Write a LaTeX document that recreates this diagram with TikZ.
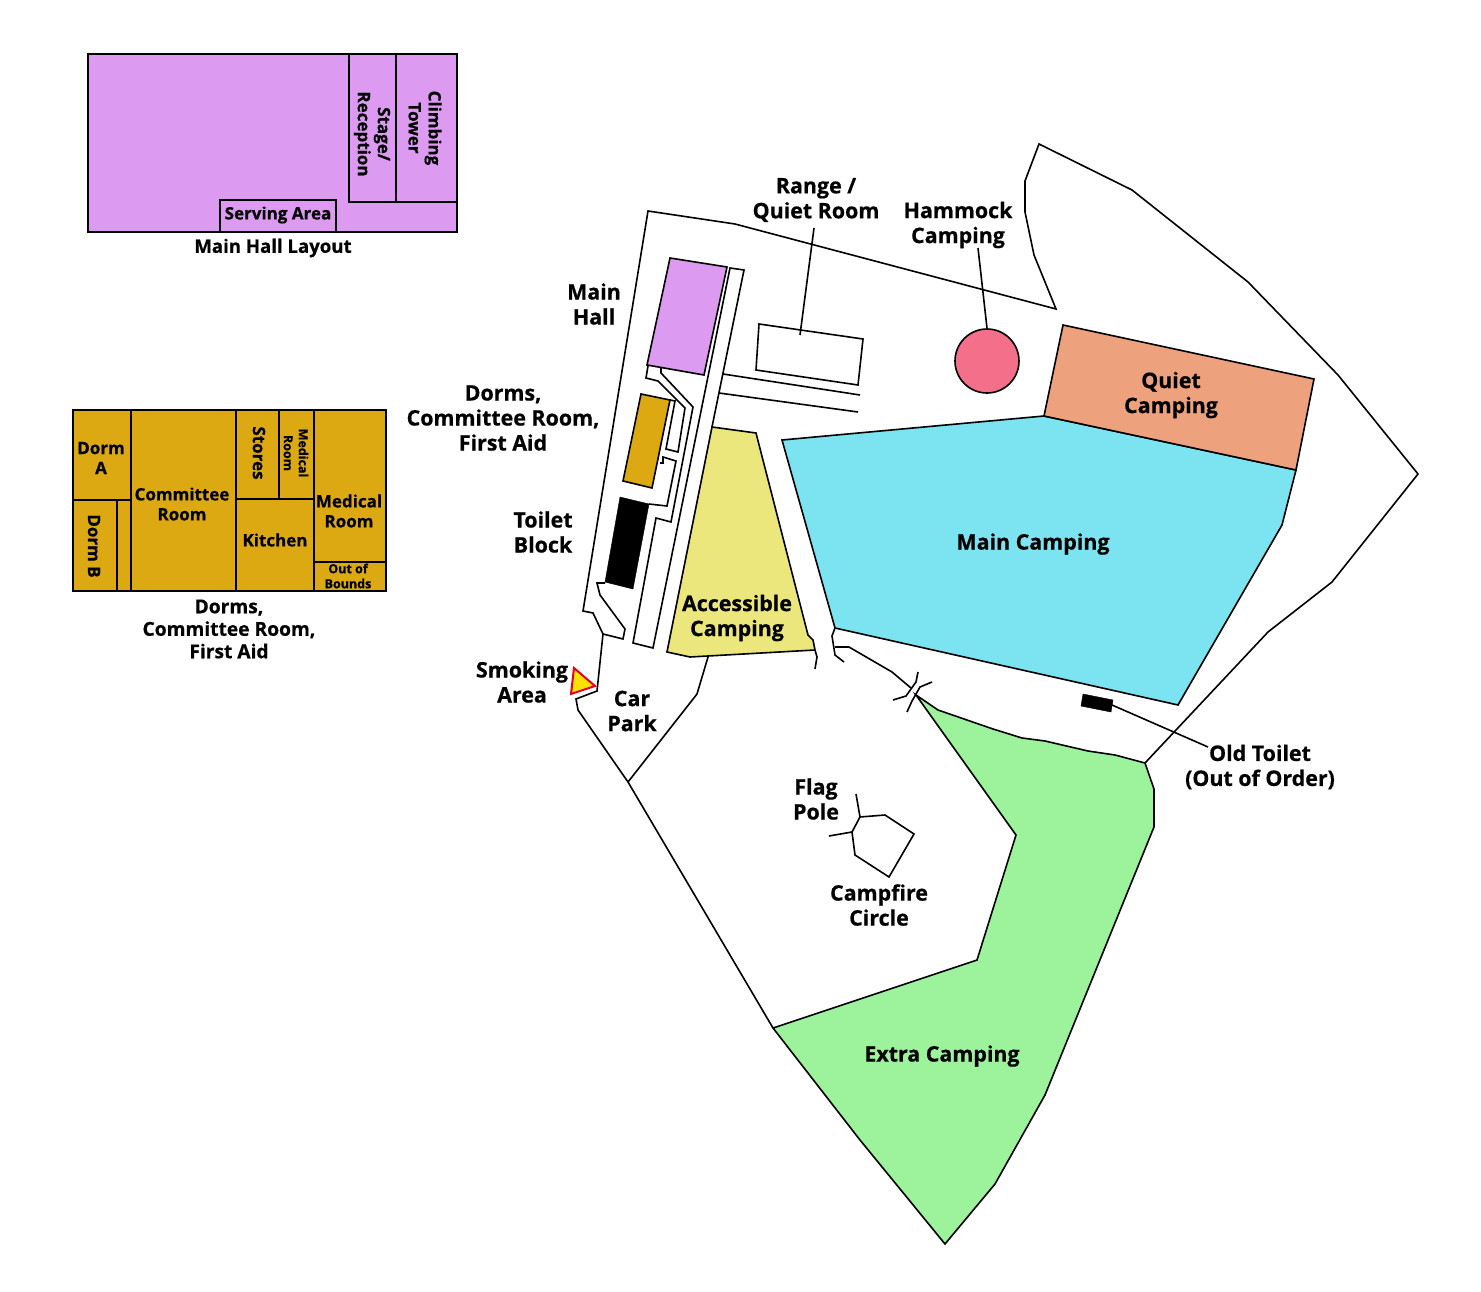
\documentclass[tikz,border=0pt]{standalone}
\usepackage{fontspec}
\setmainfont{Open Sans}[BoldFeatures={FakeBold=0.6}]
\definecolor{hallcol}{HTML}{DC9AF0}
\definecolor{dormcol}{HTML}{DCA913}
\definecolor{maincol}{HTML}{7CE3F1}
\definecolor{accesscol}{HTML}{ECE77C}
\definecolor{quietcol}{HTML}{EDA17D}
\definecolor{extracol}{HTML}{9DF39B}
\definecolor{hammockcol}{HTML}{F4708A}
\begin{document}
\begin{tikzpicture}[x=1pt,y=-1pt,line join=miter,
    wall/.style={draw=black,line width=1.6pt},
    room/.style={draw=black,line width=2pt},
    lbl/.style={inner sep=0pt,align=center,font=\fontsize{21.4}{25}\selectfont\bfseries},
    mid/.style={inner sep=0pt,align=center,font=\fontsize{17}{20}\selectfont\bfseries},
    caption/.style={inner sep=0pt,align=center,font=\fontsize{19.2}{22.5}\selectfont\bfseries},
    tiny/.style={inner sep=0pt,align=center,font=\fontsize{12.5}{15}\selectfont\bfseries}]
    \useasboundingbox (0,0) rectangle (1481,1292);

    % main hall layout
    \filldraw[room,fill=hallcol] (88,54) rectangle (457,232);
    \draw[room] (349,54) -- (349,202) -- (457,202) (396,54) -- (396,202);
    \draw[room] (220,232) -- (220,200) -- (336,200) -- (336,232);
    \node[mid] (servingarea) at (278,215) {Serving Area};
    \node[mid,rotate=-90] (stage) at (372,134) {Stage/\\Reception};
    \node[mid,rotate=-90] (climbing) at (425,128) {Climbing\\Tower};
    \node[caption,font=\fontsize{18.6}{22.5}\selectfont\bfseries] (hallcaption) at (273,248) {Main Hall Layout};

    % dorms layout
    \filldraw[room,fill=dormcol] (73,410) rectangle (386,591);
    \draw[room] (131,410) -- (131,591) (73,500) -- (131,500) (117,500) -- (117,591);
    \draw[room] (236,410) -- (236,591) (236,499) -- (314,499) (279,410) -- (279,499);
    \draw[room] (314,410) -- (314,591) (314,562) -- (386,562);
    \node[mid] (dorma) at (101,458) {Dorm\\A};
    \node[mid,rotate=-90] (dormb) at (94,546) {Dorm B};
    \node[mid] (committee) at (182,504) {Committee\\Room};
    \node[mid,rotate=-90] (stores) at (259,453) {Stores};
    \node[tiny,rotate=-90] (medsmall) at (296,453) {Medical\\Room};
    \node[mid] (kitchen) at (275,540) {Kitchen};
    \node[mid] (medical) at (349,511) {Medical\\Room};
    \node[tiny] (bounds) at (348,576) {Out of\\Bounds};
    \node[caption] (dormcaption) at (229,629) {Dorms,\\Committee Room,\\First Aid};

    % camping areas
    \filldraw[wall,fill=extracol] (916,695) -- (938,710) -- (993,729) -- (1022,738) -- (1045,741) -- (1088,751)
      -- (1115,755) -- (1145,763) -- (1154,789) -- (1154,827) -- (1045,1095) -- (995,1184) -- (945,1244)
      -- (860,1140) -- (773,1028) -- (977,960) -- (1016,835) -- cycle;
    \filldraw[wall,fill=maincol] (782,440) -- (1044,416) -- (1296,470) -- (1282,525) -- (1178,705) -- (835,628) -- cycle;
    \filldraw[wall,fill=quietcol] (1063,325) -- (1314,379) -- (1296,470) -- (1044,416) -- cycle;
    \filldraw[wall,fill=accesscol] (712,427) -- (756,433) -- (808,635) -- (813,640) -- (815,650) -- (690,657) -- (667,652) -- cycle;

    % site boundary
    \draw[wall] (603,634) -- (593,613) -- (583,611) -- (648,211) -- (735,224) -- (1056,309) -- (1034,255)
      -- (1025,212) -- (1025,181) -- (1039,144) -- (1132,190) -- (1248,282) -- (1338,375) -- (1418,474)
      -- (1332,582) -- (1268,632) -- (1145,763);
    \draw[wall] (603,634) -- (597,691) -- (576,699) -- (578,710) -- (628,782) -- (773,1028);
    \draw[wall] (708,657) -- (697,694) -- (628,782);
    \draw[wall] (815,650) -- (817,657) -- (815,669);
    \draw[wall] (835,628) -- (832,636) -- (835,655) -- (844,662);
    \draw[wall] (835,647) -- (849,647) -- (892,672) -- (911,688);
    \draw[wall] (893,700) -- (906,696) -- (916,682) -- (918,672);
    \draw[wall] (907,712) -- (912,701) -- (920,687) -- (932,682);

    % buildings
    \filldraw[wall,fill=hallcol] (670,258) -- (727,267) -- (704,375) -- (647,365) -- cycle;
    \filldraw[wall,fill=dormcol] (641,394) -- (670,400) -- (652,488) -- (623,481) -- cycle;
    \filldraw[draw=black,fill=black] (620,497) -- (649,504) -- (633,589) -- (605,582) -- cycle;
    \draw[wall] (648,366) -- (646,378) -- (658,381) -- (685,408) -- (678,452) -- (666,449) -- (675,401) -- (670,400);
    \draw[wall] (661,368) -- (661,373) -- (693,407) -- (671,522) -- (656,518) -- (633,643) -- (653,648)
      -- (730,268) -- (744,270) -- (712,427);
    \draw[wall] (660,463) -- (663,463) -- (663,457) -- (676,461) -- (667,506) -- (649,504);
    \draw[wall] (605,583) -- (597,583) -- (600,595) -- (625,629) -- (623,639) -- (603,634);
    \filldraw[wall,fill=white] (759,324) -- (863,339) -- (858,385) -- (756,370) -- cycle;
    \draw[wall] (723,374) -- (860,395) (719,393) -- (858,412);
    \filldraw[draw=black,fill=black] (1083,694) -- (1113,700) -- (1111,712) -- (1081,706) -- cycle;

    % campfire circle
    \draw[wall] (860,817) -- (885,815) -- (914,834) -- (889,877) -- (855,855) -- (852,832) -- cycle;
    \draw[wall] (856,794) -- (860,817) (829,836) -- (852,832);

    \node[circle,draw=black,line width=1.6pt,fill=hammockcol,minimum size=64pt,inner sep=0pt] (hammock) at (987,361) {};
    \filldraw[draw=red!90!blue,line width=2pt,fill=yellow!85!orange] (574,668) -- (595,686) -- (571,694) -- cycle;

    % labels
    \node[lbl] (rangelbl) at (816,200) {Range /\\Quiet Room};
    \node[lbl] (hammocklbl) at (958,225) {Hammock\\Camping};
    \node[lbl] (halllbl) at (594,304) {Main\\Hall};
    \node[lbl] (dormlbl) at (503,418) {Dorms,\\Committee Room,\\First Aid};
    \node[lbl] (toiletlbl) at (543,532) {Toilet\\Block};
    \node[lbl] (smokinglbl) at (522,682) {Smoking\\Area};
    \node[lbl] (carlbl) at (632,711) {Car\\Park};
    \node[lbl] (accesslbl) at (737,618) {Accessible\\Camping};
    \node[lbl] (quietlbl) at (1171,395) {Quiet\\Camping};
    \node[lbl] (mainlbl) at (1033,544) {Main Camping};
    \node[lbl] (oldlbl) at (1260,767) {Old Toilet\\(Out of Order)};
    \node[lbl] (flaglbl) at (816,799) {Flag\\Pole};
    \node[lbl] (firelbl) at (879,905) {Campfire\\Circle};
    \node[lbl] (extralbl) at (942,1056) {Extra Camping};

    % leader lines
    \coordinate (rangefrom) at (814,228);
    \coordinate (rangeto) at (800,335);
    \coordinate (hammockfrom) at (978,248);
    \coordinate (oldfrom) at (1208,747);
    \coordinate (oldto) at (1112,705);
    \draw[wall] (rangefrom) -- (rangeto);
    \draw[wall] (hammockfrom) -- (hammock.north);
    \draw[wall] (oldfrom) -- (oldto);
\end{tikzpicture}
\end{document}
